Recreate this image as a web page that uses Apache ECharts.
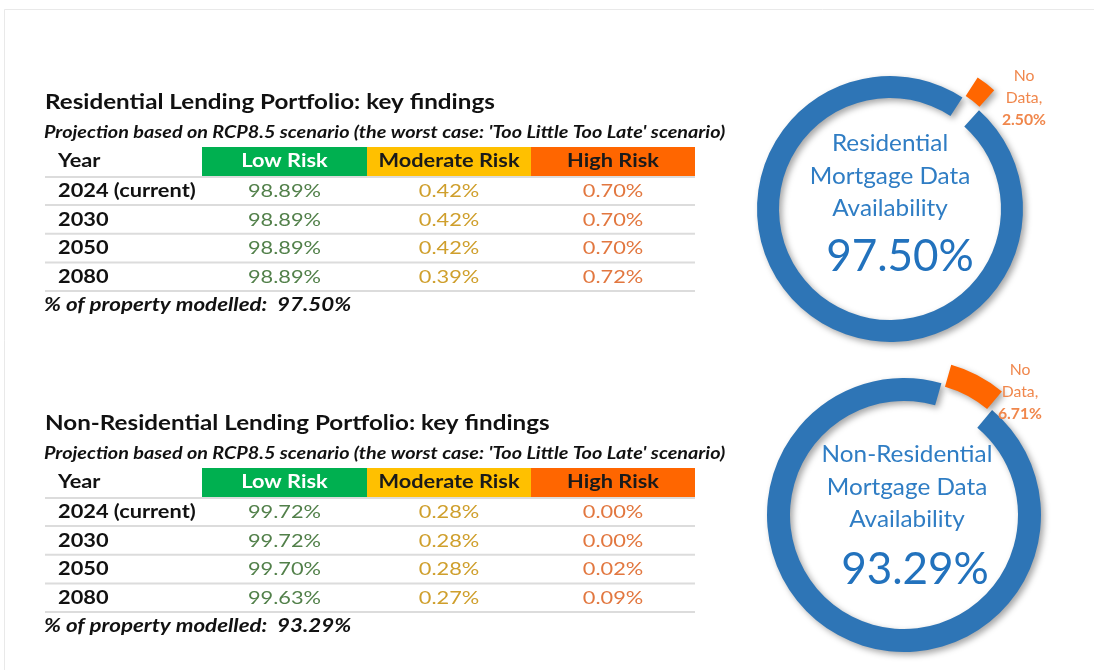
<!DOCTYPE html>
<html>
<head>
<meta charset="utf-8">
<title>Lending Portfolio key findings</title>
<script src="https://cdn.jsdelivr.net/npm/echarts@6/dist/echarts.min.js"></script>
<style>
  html, body { margin: 0; padding: 0; background: #fff; }
  #main { width: 1094px; height: 670px; }
</style>
</head>
<body>
<div id="main"></div>
<script>
// 表格数据
const years = ['2024 (current)', '2030', '2050', '2080'];
const riskLevels = ['Low Risk', 'Moderate Risk', 'High Risk'];

const resLow = [98.89, 98.89, 98.89, 98.89];
const resModerate = [0.42, 0.42, 0.42, 0.39];
const resHigh = [0.70, 0.70, 0.70, 0.72];
const resModelled = 97.50;

const nonResLow = [99.72, 99.72, 99.70, 99.63];
const nonResModerate = [0.28, 0.28, 0.28, 0.27];
const nonResHigh = [0.00, 0.00, 0.02, 0.09];
const nonResModelled = 93.29;

// 环形图数据
const availNames = ['Data', 'No Data'];
const resAvailability = [97.50, 2.50];
const nonResAvailability = [93.29, 6.71];

const FONT = 'Lato, "Open Sans", sans-serif';
const headerColors = ['#00B050', '#FFC000', '#FF6600'];
const headerTextColors = ['#ffffff', '#1a1a1a', '#1a1a1a'];
const valueColors = ['#52804A', '#CF9F2C', '#E2773F'];
const ringBlue = '#2E75B6';
const noDataOrange = '#FF6600';
const labelOrange = '#F0874C';

const pct = v => v.toFixed(2) + '%';

// 文本（原图横向略拉伸，用 scaleX 模拟）
function txt(x, y, text, font, fill, align, sx) {
  return {
    type: 'text',
    silent: true,
    zlevel: 1,
    z: 10,
    x: x,
    y: y,
    scaleX: sx || 1,
    style: {
      x: 0, y: 0, text: text, font: font, fill: fill,
      textAlign: align || 'left', textVerticalAlign: 'middle'
    }
  };
}

// 生成一个表格（标题 + 表头 + 4 行 + 底注）
function buildTable(top, title, low, moderate, high, modelled) {
  const els = [];
  const colX = [202, 367, 531, 695];
  const SX = 1.21;
  els.push(txt(45, top, title, 'bold 20px ' + FONT, '#111', 'left', 1.21));
  els.push(txt(44, top + 30, "Projection based on RCP8.5 scenario (the worst case: 'Too Little Too Late' scenario)",
    'italic bold 16.5px ' + FONT, '#111', 'left', 1.2));
  // 表头
  els.push(txt(58, top + 58, 'Year', 'bold 18px ' + FONT, '#111', 'left', SX));
  riskLevels.forEach((name, i) => {
    els.push({
      type: 'rect', silent: true,
      shape: { x: colX[i], y: top + 44, width: colX[i + 1] - colX[i], height: 29 },
      style: { fill: headerColors[i] }
    });
    els.push(txt((colX[i] + colX[i + 1]) / 2, top + 58, name, 'bold 18px ' + FONT, headerTextColors[i], 'center', SX));
  });
  els.push({
    type: 'line', silent: true,
    shape: { x1: 45, y1: top + 74, x2: 695, y2: top + 74 },
    style: { stroke: '#dcdcdc', lineWidth: 2 }
  });
  // 数据行
  const cols = [low, moderate, high];
  years.forEach((year, r) => {
    const cy = top + 88 + r * 28.7;
    els.push(txt(58, cy, year, 'bold 18px ' + FONT, '#111', 'left', SX));
    cols.forEach((arr, c) => {
      els.push(txt((colX[c] + colX[c + 1]) / 2, cy, pct(arr[r]), '18px ' + FONT, valueColors[c], 'center', SX));
    });
    els.push({
      type: 'line', silent: true,
      shape: { x1: 45, y1: cy + 14, x2: 695, y2: cy + 14 },
      style: { stroke: '#dcdcdc', lineWidth: 2 }
    });
  });
  els.push(txt(44, top + 202, '% of property modelled:  ' + pct(modelled), 'italic bold 18px ' + FONT, '#111', 'left', 1.24));
  return els;
}

// 环形图中间文字和 "No Data" 标签
function buildDonutText(cx, lines, lineTop, value, valueX, valueY, noData, lx, ly) {
  const els = [];
  lines.forEach((line, i) => {
    els.push(txt(cx, lineTop + i * 32.5, line, '22.5px ' + FONT, '#2F7DC4', 'center', 1.08));
  });
  els.push(txt(valueX, valueY, pct(value), '44px ' + FONT, '#2272BD', 'center', 1));
  els.push(txt(lx, ly, 'No', '15px ' + FONT, labelOrange, 'center', 1.05));
  els.push(txt(lx, ly + 22, 'Data,', '15px ' + FONT, labelOrange, 'center', 1.05));
  els.push(txt(lx, ly + 44, pct(noData), 'bold 15px ' + FONT, labelOrange, 'center', 1.05));
  return els;
}

function donutSeries(values, center, radius, startAngle, offset) {
  return {
    type: 'pie',
    z: 1,
    center: center,
    radius: radius,
    startAngle: startAngle,
    clockwise: true,
    selectedMode: 'single',
    selectedOffset: offset,
    avoidLabelOverlap: false,
    label: { show: false },
    labelLine: { show: false },
    emphasis: { disabled: true },
    itemStyle: {
      shadowBlur: 6,
      shadowOffsetX: 3,
      shadowOffsetY: 3,
      shadowColor: 'rgba(0,0,0,0.35)'
    },
    data: values.map((v, i) => ({
      name: availNames[i],
      value: v,
      selected: i === 1,
      itemStyle: { color: i === 1 ? noDataOrange : ringBlue }
    }))
  };
}

const chart = echarts.init(document.getElementById('main'));

const graphics = [
  {
    type: 'rect', silent: true,
    shape: { x: 4.5, y: 9.5, width: 1200, height: 800 },
    style: { fill: 'none', stroke: '#e9e9e9', lineWidth: 1 }
  }
]
  .concat(buildTable(103, 'Residential Lending Portfolio: key findings', resLow, resModerate, resHigh, resModelled))
  .concat(buildTable(424, 'Non-Residential Lending Portfolio: key findings', nonResLow, nonResModerate, nonResHigh, nonResModelled))
  .concat(buildDonutText(890, ['Residential', 'Mortgage Data', 'Availability'], 144,
    resAvailability[0], 900, 257, resAvailability[1], 1024, 76))
  .concat(buildDonutText(907, ['Non-Residential', 'Mortgage Data', 'Availability'], 455,
    nonResAvailability[0], 915, 570, nonResAvailability[1], 1020, 370));

const option = {
  animation: false,
  backgroundColor: '#ffffff',
  series: [
    donutSeries(resAvailability, [890, 209], [111, 133], 48, 25),
    donutSeries(nonResAvailability, [904, 515], [114, 137], 50, 21)
  ],
  graphic: { elements: graphics }
};

chart.setOption(option);
window.addEventListener('resize', () => chart.resize());
</script>
</body>
</html>
